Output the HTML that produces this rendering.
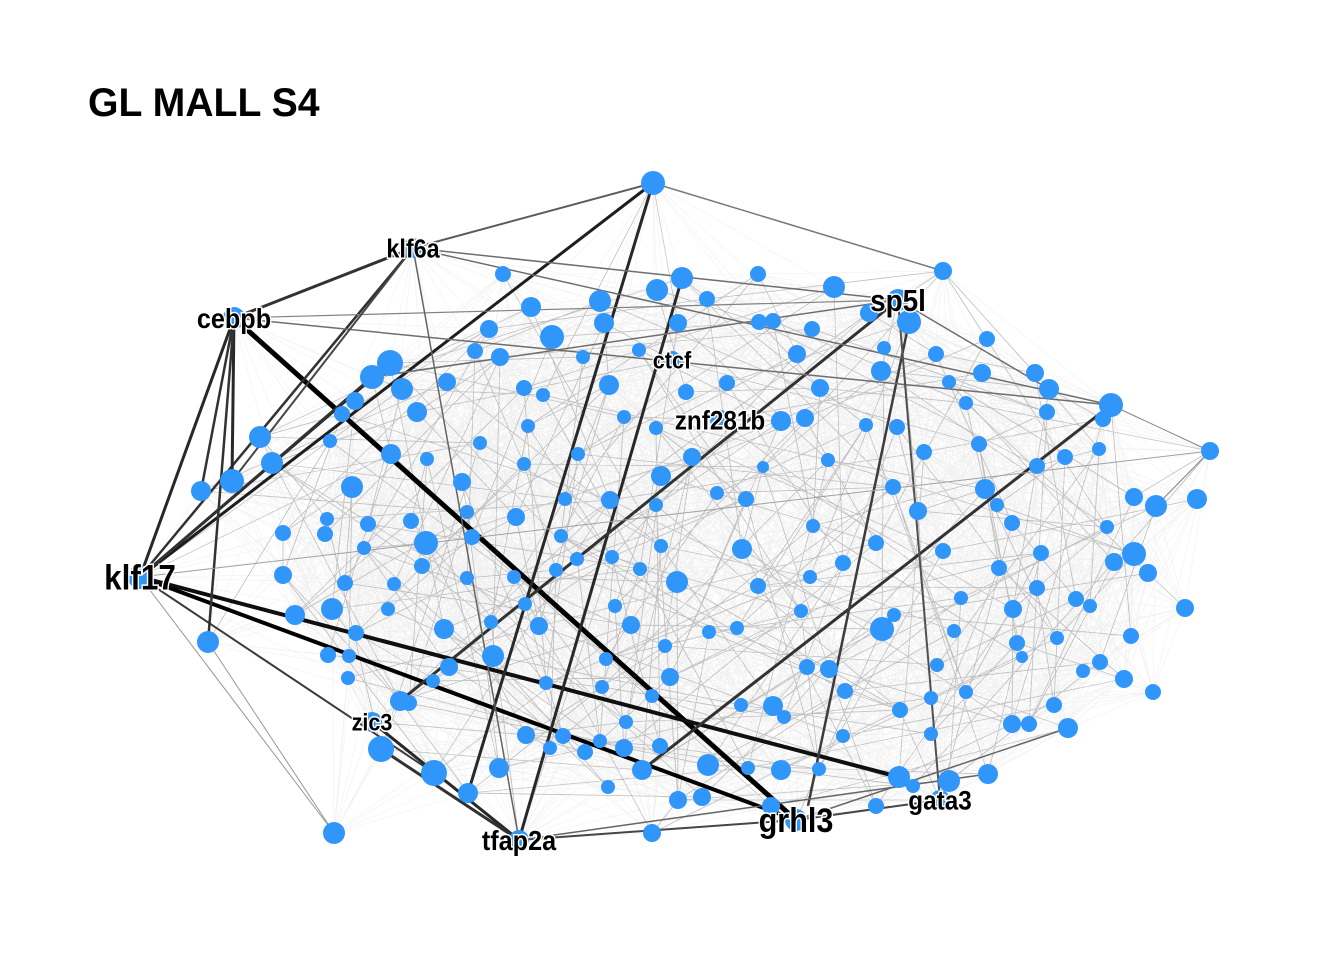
<!DOCTYPE html>
<html><head><meta charset="utf-8">
<style>
html,body{margin:0;padding:0;background:#fff;}
svg{display:block;}
text{font-family:"Liberation Sans",sans-serif;font-weight:bold;}
</style></head>
<body>
<svg id="chart" width="1344" height="960">
<text x="88" y="116" font-size="40" transform="translate(88,0) scale(0.98,1) translate(-88,0)" fill="#000">GL MALL S4</text>
<g id="bg-edges"></g><g id="edges"></g><g id="nodes"></g><g id="labels"></g>
</svg>
<script>
const hubNames=["klf6a","cebpb","klf17","sp5l","ctcf","znf281b","zic3","tfap2a","grhl3","gata3"];
const hubX=[413,234,140,898,672,720,372,519,796,940];
const hubY=[248,318,577,300,360,420,722,840,820,800];
const hubR=[10,11,12,11,9,10,10,10,11,10];
const labelSize=[26,28,35,31,24,27,24,28,34,27];
const other=[[653,183,12],[503,274,8],[682,278,11],[758,274,8],[834,287,11],[943,271,9],[657,290,11],[707,299,8],[600,301,11],[531,307,10],[604,323,10],[678,323,9],[759,322,8],[773,321,8],[812,329,8],[869,313,9],[909,322,12],[489,329,9],[552,337,12],[987,339,8],[390,363,13],[372,377,12],[475,351,8],[500,357,9],[583,357,7],[639,350,7],[797,354,9],[884,348,7],[936,354,8],[402,389,11],[447,382,9],[524,388,8],[609,385,10],[727,383,8],[881,371,10],[1035,373,9],[1049,389,10],[355,401,9],[342,414,8],[417,412,10],[543,395,7],[686,392,8],[820,388,9],[949,382,7],[982,373,9],[1111,405,12],[1103,419,8],[966,403,7],[805,418,9],[781,421,10],[866,425,7],[897,427,8],[1047,412,8],[624,417,7],[656,428,7],[528,426,7],[260,437,11],[330,441,7],[391,454,10],[480,443,7],[578,454,7],[272,463,11],[427,459,7],[524,464,7],[692,457,9],[763,467,6],[828,460,7],[924,452,8],[979,444,8],[1065,457,8],[1099,449,7],[1037,466,8],[1210,451,9],[232,481,12],[201,491,10],[352,487,11],[462,482,9],[661,476,10],[746,499,8],[893,487,8],[985,489,10],[1134,497,9],[1156,506,11],[1197,499,10],[565,499,7],[610,500,9],[656,505,7],[717,493,7],[327,519,7],[411,521,8],[516,517,9],[467,512,7],[918,511,9],[1012,523,8],[1107,527,7],[997,505,7],[283,533,8],[325,534,8],[368,524,8],[426,543,12],[364,548,7],[472,537,8],[561,536,7],[661,546,7],[742,549,10],[813,526,7],[876,543,8],[943,551,8],[1041,553,8],[1134,554,12],[1114,562,9],[577,559,7],[612,557,7],[422,566,8],[283,575,9],[677,582,11],[758,586,8],[1148,573,9],[843,563,8],[999,568,8],[810,577,7],[467,578,7],[514,577,7],[556,570,7],[640,569,7],[345,583,8],[394,584,7],[1037,588,8],[1076,599,8],[1090,606,7],[1185,608,9],[961,598,7],[894,615,7],[1013,609,9],[525,604,7],[615,606,7],[801,611,7],[295,615,10],[332,609,11],[388,609,7],[444,629,10],[491,622,7],[539,626,9],[631,625,9],[709,632,7],[737,628,7],[882,629,12],[954,631,7],[1017,643,8],[1131,636,8],[1057,638,7],[208,642,11],[356,633,8],[328,655,8],[349,656,7],[493,656,11],[606,659,7],[665,646,7],[937,665,7],[1022,657,6],[1100,662,8],[807,667,8],[829,669,9],[449,667,9],[348,678,7],[433,681,7],[546,683,7],[602,687,7],[652,696,7],[670,677,9],[1083,671,7],[1124,679,9],[1153,692,8],[845,691,8],[966,692,7],[400,701,10],[409,703,8],[741,705,7],[773,706,10],[784,717,7],[900,710,8],[931,698,7],[1054,705,8],[1012,724,9],[1029,724,8],[1068,728,10],[626,722,7],[526,735,9],[563,736,8],[600,741,7],[381,749,13],[550,748,7],[585,752,8],[624,748,9],[660,746,8],[708,765,11],[748,768,7],[781,770,10],[819,769,7],[843,736,7],[931,734,7],[899,777,11],[949,781,11],[988,774,10],[434,773,13],[499,768,10],[608,787,7],[642,770,10],[468,793,10],[678,800,9],[702,797,9],[771,806,9],[876,806,8],[913,786,7],[334,833,11],[652,833,9]];
const strongEdges=[
[234,318,796,820,5,0],[140,577,796,820,4,0],[140,577,899,777,4,15],[140,577,653,183,3,30],[140,577,413,248,2.5,50],
[140,577,390,363,3,40],[140,577,372,377,2.5,50],[140,577,434,773,2,60],[234,318,413,248,3,50],[413,248,653,183,2,90],
[234,318,140,577,3,40],[234,318,232,481,3,40],[234,318,201,491,2.5,50],[234,318,208,642,2.5,50],[653,183,468,793,3,40],
[682,278,519,840,3,40],[898,300,400,701,3,50],[1111,405,642,770,3,50],[909,322,808,806,2.5,60],[519,840,796,820,2,70],
[796,820,940,800,2,70],[372,722,519,840,3,40],[381,749,519,840,3,50],[234,318,1111,405,1.5,110],[413,248,1111,405,1.5,110],
[898,300,1049,389,1.5,110],[653,183,943,271,1.5,120],[413,248,898,300,1.5,110],[898,300,940,800,2,80],[140,577,1210,451,1,160],
[234,318,898,300,1.2,130],[413,248,519,840,1.5,100],[372,377,898,300,1.5,110],[796,820,1068,728,1.5,100],[519,840,988,774,1.5,100],
[413,248,232,481,2,70],[140,577,334,833,1,150],[208,642,334,833,1,150],[1210,451,1156,506,1,130],[1111,405,1210,451,1,130]];
const xs=hubX.concat(other.map(o=>o[0]));
const ys=hubY.concat(other.map(o=>o[1]));
const rs=hubR.concat(other.map(o=>o[2]));
const NS="http://www.w3.org/2000/svg";
const bg=document.getElementById('bg-edges');
let d="";
for(let i=0;i<xs.length;i++)for(let j=i+1;j<xs.length;j++){
 const dx=xs[i]-xs[j],dy=ys[i]-ys[j];
 if(dx*dx+dy*dy<260*260 && ((i*7+j*13)%2===0)) d+="M"+xs[i]+" "+ys[i]+"L"+xs[j]+" "+ys[j];
}
const p=document.createElementNS(NS,'path');
p.setAttribute('d',d);p.setAttribute('stroke','#000');p.setAttribute('stroke-opacity','0.06');p.setAttribute('stroke-width','0.6');p.setAttribute('fill','none');


bg.appendChild(p);
let d2="";
for(let i=0;i<xs.length;i++)for(let j=i+1;j<xs.length;j++){
 const dx=xs[i]-xs[j],dy=ys[i]-ys[j];
 if(dx*dx+dy*dy<330*330 && ((i*31+j*17)%29===0)) d2+="M"+xs[i]+" "+ys[i]+"L"+xs[j]+" "+ys[j];
}
const p2=document.createElementNS(NS,'path');
p2.setAttribute('d',d2);p2.setAttribute('stroke','#333');p2.setAttribute('stroke-opacity','0.28');p2.setAttribute('stroke-width','0.8');p2.setAttribute('fill','none');


bg.appendChild(p2);
const eg=document.getElementById('edges');
strongEdges.forEach(e=>{
 const l=document.createElementNS(NS,'line');
 l.setAttribute('x1',e[0]);l.setAttribute('y1',e[1]);l.setAttribute('x2',e[2]);l.setAttribute('y2',e[3]);
 l.setAttribute('stroke','rgb('+e[5]+','+e[5]+','+e[5]+')');l.setAttribute('stroke-width',e[4]);
 
 
 eg.appendChild(l);
});
const ng=document.getElementById('nodes');
for(let i=0;i<xs.length;i++){
 const c=document.createElementNS(NS,'circle');
 c.setAttribute('cx',xs[i]);c.setAttribute('cy',ys[i]);c.setAttribute('r',rs[i]);c.setAttribute('fill','#3196FA');
 
 
 ng.appendChild(c);
}
const lg=document.getElementById('labels');
hubNames.forEach((n,i)=>{
 const t=document.createElementNS(NS,'text');
 t.setAttribute('x',hubX[i]);t.setAttribute('y',hubY[i]+labelSize[i]*0.36);
 t.setAttribute('text-anchor','middle');t.setAttribute('font-size',labelSize[i]);
 t.setAttribute('fill','#000');t.setAttribute('stroke','#fff');t.setAttribute('stroke-width','3');t.setAttribute('paint-order','stroke');
 t.setAttribute('transform','translate('+hubX[i]+',0) scale(0.9,1) translate('+(-hubX[i])+',0)');
 t.textContent=n;
 
 
 lg.appendChild(t);
});
</script>
</body></html>
